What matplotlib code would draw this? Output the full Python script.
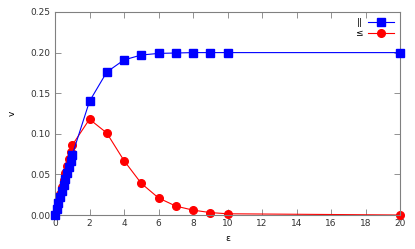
import matplotlib
matplotlib.use("Agg")
import matplotlib.pyplot as plt

# epsilon values, dense steps up to 1 then integers
eps = [0.0, 0.1, 0.2, 0.3, 0.4, 0.5, 0.6, 0.7, 0.8, 0.9, 1.0,
       2, 3, 4, 5, 6, 7, 8, 9, 10, 20]
v_eq = [0.0, 0.0074, 0.0148, 0.0222, 0.0296, 0.037, 0.0444, 0.0518, 0.0592, 0.0666, 0.074,
        0.140, 0.176, 0.191, 0.197, 0.199, 0.1995, 0.200, 0.200, 0.200, 0.200]
v_le = [0.0, 0.0086, 0.0172, 0.0258, 0.0344, 0.043, 0.0516, 0.0602, 0.0688, 0.0774, 0.086,
        0.118, 0.101, 0.067, 0.039, 0.021, 0.011, 0.006, 0.003, 0.0015, 0.0]

plt.rcParams['font.family'] = ['DejaVu Sans']
plt.rcParams['font.size'] = 6.5

fig = plt.figure(figsize=(4.15, 2.49), dpi=100)
ax = fig.add_axes([55 / 415, 34 / 249, 345 / 415, 203 / 249])

ax.plot(eps, v_le, color="#ff0000", lw=0.8, marker="o", ms=5.5, label="≤", zorder=2)
ax.plot(eps, v_eq, color="#0000ff", lw=0.8, marker="s", ms=5.5, label="||", zorder=3)

ax.set_xlim(0, 20)
ax.set_ylim(0, 0.25)
ax.set_xticks(range(0, 21, 2))
ax.set_yticks([0, 0.05, 0.10, 0.15, 0.20, 0.25])
ax.set_yticklabels(["0.00", "0.05", "0.10", "0.15", "0.20", "0.25"])
ax.set_xlabel("ε", labelpad=4)
ax.set_ylabel("v", labelpad=10)

for s in ax.spines.values():
    s.set_color("#808080")
    s.set_linewidth(0.8)
ax.tick_params(direction="in", length=4, width=0.6, color="#808080",
               top=True, right=True, labelcolor="#333333", pad=3)
ax.set_clip_on(False)
for ln in ax.lines:
    ln.set_clip_on(False)

h, l = ax.get_legend_handles_labels()
ax.legend(h[::-1], l[::-1], loc="upper right", frameon=False, markerfirst=False,
          handlelength=2.8, borderaxespad=0.3, labelspacing=0.2, handletextpad=0.6)

fig.savefig("out.png", dpi=100)
